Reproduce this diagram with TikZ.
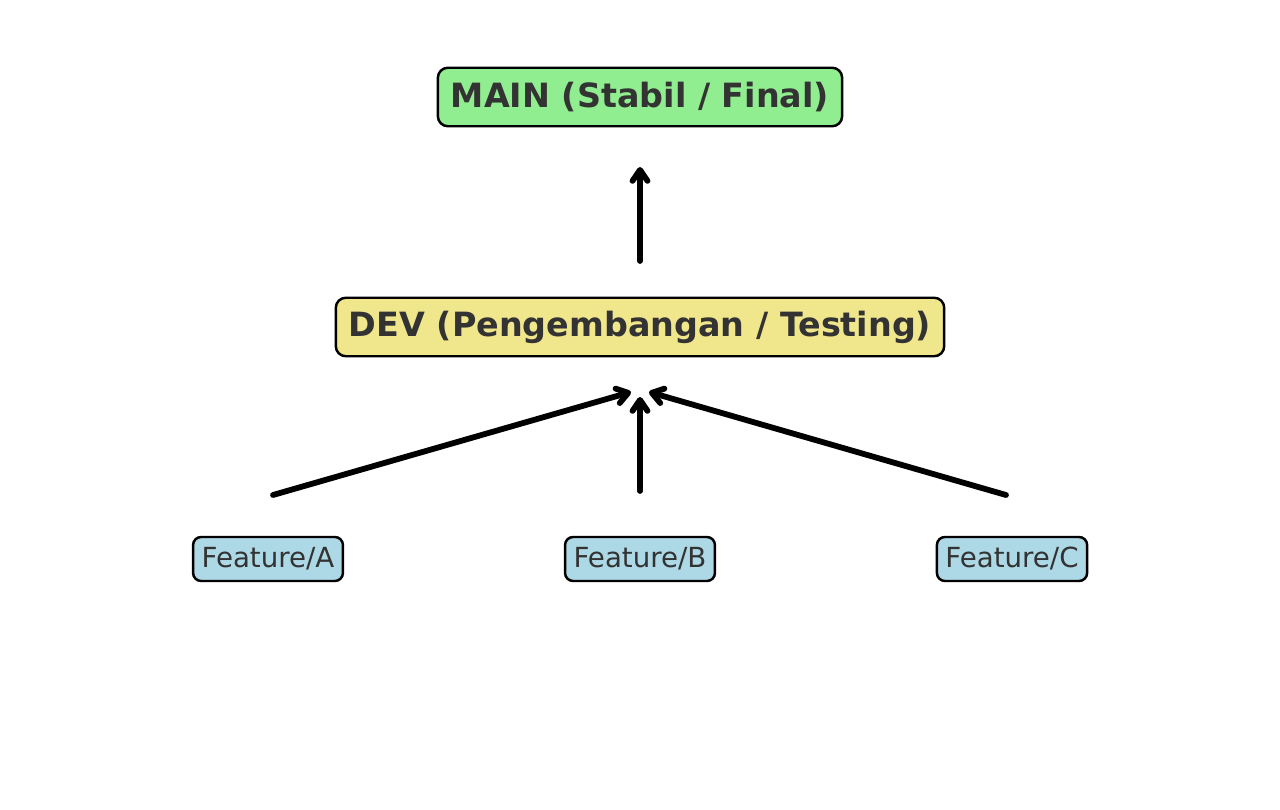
\documentclass[tikz,border=0pt]{standalone}
\usepackage{fontspec}
\setmainfont{DejaVu Sans}
\usetikzlibrary{arrows.meta}
\usetikzlibrary{calc}
\definecolor{textgray}{HTML}{333333}
\definecolor{mainfill}{HTML}{90EE90}
\definecolor{devfill}{HTML}{F0E68C}
\definecolor{featfill}{HTML}{ADD8E6}
\begin{document}
\begin{tikzpicture}[x=0.02cm,y=-0.02cm]
\tikzstyle{branch}=[draw,rounded corners=0.2cm,line width=1.4pt,text=textgray,inner xsep=0.26cm,minimum height=1.17cm,font=\fontsize{19}{23}\selectfont\bfseries]
\tikzstyle{feature}=[draw,fill=featfill,rounded corners=0.16cm,line width=1.4pt,text=textgray,inner xsep=0.17cm,minimum height=0.88cm,font=\fontsize{15.75}{19}\selectfont]
\tikzstyle{merge}=[line width=3.3pt,line cap=round,-{Straight Barb[length=0.22cm,width=0.3cm,round]}]
\useasboundingbox (0,0) rectangle (1280,810);
% branches
\node (main) [branch, fill=mainfill] at (640,97) {MAIN (Stabil / Final)};
\node (dev) [branch, fill=devfill] at (640,327) {DEV (Pengembangan / Testing)};
\node (fa) [feature] at (268,559) {Feature/A};
\node (fb) [feature] at (640,559) {Feature/B};
\node (fc) [feature] at (1012,559) {Feature/C};
% arrow ends
\coordinate (devout) at (640,261);
\coordinate (mainin) at (640,167);
\coordinate (faout) at (273,495);
\coordinate (fbout) at (640,491);
\coordinate (fcout) at (1006,495);
\coordinate (devinA) at (631,392);
\coordinate (devinB) at (640,397);
\coordinate (devinC) at (649,392);
\draw [merge] (devout) -- (mainin);
\draw [merge] (faout) -- (devinA);
\draw [merge] (fbout) -- (devinB);
\draw [merge] (fcout) -- (devinC);
\end{tikzpicture}
\end{document}
